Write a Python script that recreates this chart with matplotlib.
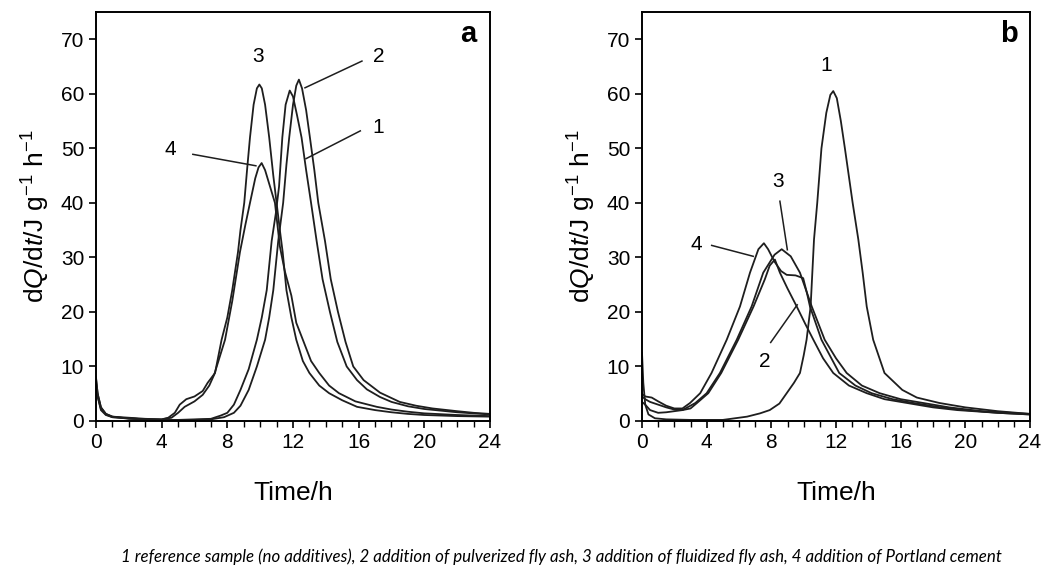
import numpy as np
import matplotlib.pyplot as plt
from matplotlib.ticker import MultipleLocator

plt.rcParams['font.family'] = ['Liberation Sans', 'DejaVu Sans']
plt.rcParams['mathtext.fontset'] = 'custom'
plt.rcParams['mathtext.rm'] = 'Liberation Sans'
plt.rcParams['mathtext.it'] = 'Liberation Sans:italic'

# panel a: heat flow curves (time in h, dQ/dt in J/g/h)
a1_t = [0, 0.1, 0.3, 0.6, 1, 2, 3, 4, 5, 6, 7, 7.6, 8.0, 8.4, 8.8, 9.3, 9.8, 10.1, 10.4, 10.7, 10.95,
        11.15, 11.35, 11.55, 11.8, 12.0, 12.25, 12.52, 12.8, 13.1, 13.44, 13.8, 14.25, 14.7, 15.27,
        15.9, 16.5, 17.3, 18, 19, 20, 21, 22, 23, 24]
a1_y = [7.8, 5.0, 2.5, 1.3, 0.8, 0.4, 0.3, 0.2, 0.2, 0.3, 0.4, 1.0, 1.5, 3.0, 5.7, 9.5, 14.9, 19, 24, 33, 38,
        43, 52, 58, 60.6, 59.5, 56, 52, 46, 40, 33, 26, 20, 14.5, 10,
        7.5, 5.8, 4.4, 3.5, 2.7, 2.2, 1.9, 1.6, 1.4, 1.2]

a2_t = [0, 0.1, 0.3, 0.6, 1, 2, 3, 4, 5, 6, 7, 7.8, 8.4, 8.8, 9.3, 9.8, 10.3, 10.55, 10.8, 11.1, 11.4,
        11.6, 11.77, 12.0, 12.2, 12.36, 12.55, 12.8, 13.03, 13.3, 13.54, 13.95, 14.3, 14.74, 15.2,
        15.67, 16.3, 17.3, 18.5, 19.5, 20.5, 22, 23, 24]
a2_y = [6.5, 4.5, 2.0, 1.1, 0.7, 0.5, 0.3, 0.2, 0.2, 0.2, 0.3, 0.7, 1.5, 2.8, 5.7, 10, 14.9, 19, 24, 33, 40,
        47, 52, 58, 61.5, 62.6, 61, 57, 52, 46, 40, 33, 26, 20, 14.5,
        10, 7.5, 5.2, 3.5, 2.8, 2.3, 1.8, 1.5, 1.3]

a3_t = [0, 0.1, 0.3, 0.6, 1, 2, 3, 4, 4.4, 4.8, 5.1, 5.5, 6.0, 6.5, 6.8, 7.25, 7.65, 8.0, 8.3, 8.65,
        8.8, 9.03, 9.2, 9.38, 9.6, 9.8, 9.95, 10.1, 10.3, 10.55, 10.8, 11.0, 11.2, 11.37, 11.6,
        11.9, 12.2, 12.6, 13.0, 13.6, 14.2, 15, 15.9, 17, 18, 19, 20, 22, 24]
a3_y = [8.0, 5.0, 2.5, 1.3, 0.8, 0.6, 0.4, 0.3, 0.6, 1.5, 3.0, 4.0, 4.5, 5.5, 7.0, 8.8, 14.9, 19, 24, 31,
        35, 40, 46, 52, 58, 61, 61.7, 61, 58, 52, 45, 40, 35, 31, 24,
        19, 14.9, 11, 8.8, 6.5, 5.1, 3.8, 2.6, 2.0, 1.6, 1.3, 1.1, 0.9, 0.8]

a4_t = [0, 0.1, 0.3, 0.6, 1, 2, 3, 4, 4.6, 5.0, 5.4, 6.0, 6.5, 6.9, 7.2, 7.86, 8.3, 8.77, 9.1, 9.38,
        9.7, 9.9, 10.09, 10.3, 10.6, 10.9, 11.2, 11.5, 11.9, 12.2, 12.6, 13.1, 13.6, 14.2, 14.8,
        15.8, 17.1, 18, 19, 20, 22, 24]
a4_y = [7.0, 4.5, 2.2, 1.2, 0.7, 0.5, 0.3, 0.3, 0.6, 1.5, 2.6, 3.6, 4.8, 6.5, 8.5, 14.9, 22, 31, 36, 40,
        44.5, 46.5, 47.3, 46, 43, 40, 32, 27.5, 23, 18, 14.9, 11, 8.8, 6.5, 5.1,
        3.6, 2.6, 2.1, 1.7, 1.4, 1.1, 0.9]

# panel b
b1_t = [0, 0.08, 0.2, 0.4, 0.8, 1.5, 3, 5, 6.5, 7.3, 7.9, 8.5, 8.95, 9.4, 9.77, 10.0, 10.18, 10.43,
        10.64, 10.84, 11.1, 11.4, 11.65, 11.83, 12.05, 12.3, 12.55, 13.03, 13.38, 13.65, 13.9,
        14.3, 15.0, 16.1, 17, 18.4, 20, 22, 24]
b1_y = [12.5, 7.0, 3.0, 1.2, 0.5, 0.3, 0.2, 0.2, 0.8, 1.4, 2.0, 3.2, 5.1, 7.0, 8.8, 12, 14.9, 21,
        33.3, 40, 50, 56.5, 59.8, 60.5, 59.2, 55, 50, 40, 33.3, 27.2, 21,
        14.9, 8.8, 5.7, 4.3, 3.3, 2.5, 1.8, 1.3]

b2_t = [0, 0.2, 0.5, 1, 1.5, 2, 2.5, 3, 3.4, 4.1, 4.9, 5.95, 6.9, 7.6, 7.9, 8.22, 8.53, 9.0, 9.57,
        10.1, 10.6, 11.2, 11.83, 12.8, 13.9, 15, 16.4, 18, 19.5, 22, 24]
b2_y = [4.5, 4.0, 3.5, 3.0, 2.5, 2.1, 2.0, 2.3, 3.3, 5.1, 8.8, 14.9, 21, 26, 28.5, 29.6, 27.2, 24.3, 21,
        17.8, 14.9, 11.5, 8.8, 6.5, 5.1, 4.0, 3.3, 2.5, 2.0, 1.5, 1.2]

b3_t = [0, 0.2, 0.5, 1, 1.5, 2, 2.5, 3.3, 4.0, 4.82, 5.86, 6.78, 7.5, 8.2, 8.64, 9.2, 9.77, 10.5,
        11.3, 12.0, 12.66, 13.6, 14.7, 16, 17.4, 19, 21, 24]
b3_y = [3.5, 3.0, 2.0, 1.5, 1.6, 1.8, 2.0, 3.3, 5.1, 8.8, 14.9, 21, 27.2, 30.5, 31.5, 30.2, 27.2, 21,
        14.9, 11.5, 8.8, 6.5, 5.1, 4.0, 3.3, 2.5, 1.8, 1.3]

b4_t = [0, 0.2, 0.6, 1, 1.5, 2, 2.5, 2.97, 3.6, 4.3, 5.24, 6.06, 6.68, 7.2, 7.54, 7.8, 8.2, 8.6, 8.95,
        9.5, 9.97, 10.2, 10.39, 11.1, 12.2, 13.2, 14.2, 15.5, 16.8, 18.5, 20, 22, 24]
b4_y = [5.0, 4.5, 4.3, 3.6, 2.8, 2.3, 2.3, 3.3, 5.1, 8.8, 14.9, 21, 27.2, 31.5, 32.6, 31.5, 29.2, 27.5, 26.8,
        26.7, 26.2, 23.5, 21, 14.9, 8.8, 6.5, 5.1, 4.0, 3.3, 2.5, 2.0, 1.5, 1.2]

curves_a = [(a1_t, a1_y), (a2_t, a2_y), (a3_t, a3_y), (a4_t, a4_y)]
curves_b = [(b1_t, b1_y), (b2_t, b2_y), (b3_t, b3_y), (b4_t, b4_y)]

# curve labels: text, text position, leader line (from, to) or None
labels_a = [('3', (9.87, 66.9), None),
            ('2', (17.2, 66.9), ((16.2, 66.0), (12.73, 61.1))),
            ('1', (17.2, 53.8), ((16.1, 53.2), (12.79, 48.1))),
            ('4', (4.5, 49.8), ((5.9, 48.9), (9.74, 46.8)))]
labels_b = [('1', (11.42, 65.1), None),
            ('3', (8.43, 44.0), ((8.53, 40.3), (8.99, 31.4))),
            ('4', (3.38, 32.3), ((4.31, 32.2), (6.88, 30.2))),
            ('2', (7.61, 10.9), ((7.96, 14.4), (9.6, 21.3)))]

fig = plt.figure(figsize=(10.48, 5.69), dpi=100)
ax_a = fig.add_axes([96 / 1048, 1 - 421 / 569, (490 - 96) / 1048, (421 - 12) / 569])
ax_b = fig.add_axes([642 / 1048, 1 - 421 / 569, (1030 - 642) / 1048, (421 - 12) / 569])

ylabel = r'd$\mathit{Q}$/d$\mathit{t}$/J g$^{-1}$ h$^{-1}$'

for ax, curves, labels, tag in [(ax_a, curves_a, labels_a, 'a'), (ax_b, curves_b, labels_b, 'b')]:
    for t, y in curves:
        ax.plot(t, y, color='#1e1e1e', lw=1.3)
    for txt, pos, leader in labels:
        ax.text(pos[0], pos[1], txt, fontsize=15, ha='center', va='center')
        if leader:
            (x0, y0), (x1, y1) = leader
            ax.plot([x0, x1], [y0, y1], color='#1e1e1e', lw=1.1)
    ax.text(22.7, 71.0, tag, fontsize=21, fontweight='bold', ha='center', va='center')
    ax.set_xlim(0, 24)
    ax.set_ylim(0, 75)
    ax.xaxis.set_major_locator(MultipleLocator(4))
    ax.xaxis.set_minor_locator(MultipleLocator(1))
    ax.yaxis.set_major_locator(MultipleLocator(10))
    ax.tick_params(which='major', direction='out', length=5, width=1.2, labelsize=15)
    ax.tick_params(which='minor', direction='out', length=4, width=1.0)
    for s in ax.spines.values():
        s.set_linewidth(1.4)
    ax.set_xlabel('Time/h', fontsize=19, labelpad=21)
    ax.set_ylabel(ylabel, fontsize=19, labelpad=6)

fig.text(0.536, 0.021,
         '1 reference sample (no additives), 2 addition of pulverized fly ash, '
         '3 addition of fluidized fly ash, 4 addition of Portland cement',
         fontsize=12.2, style='italic', family='Lato', ha='center', va='center')

fig.savefig('out.png', dpi=100)
